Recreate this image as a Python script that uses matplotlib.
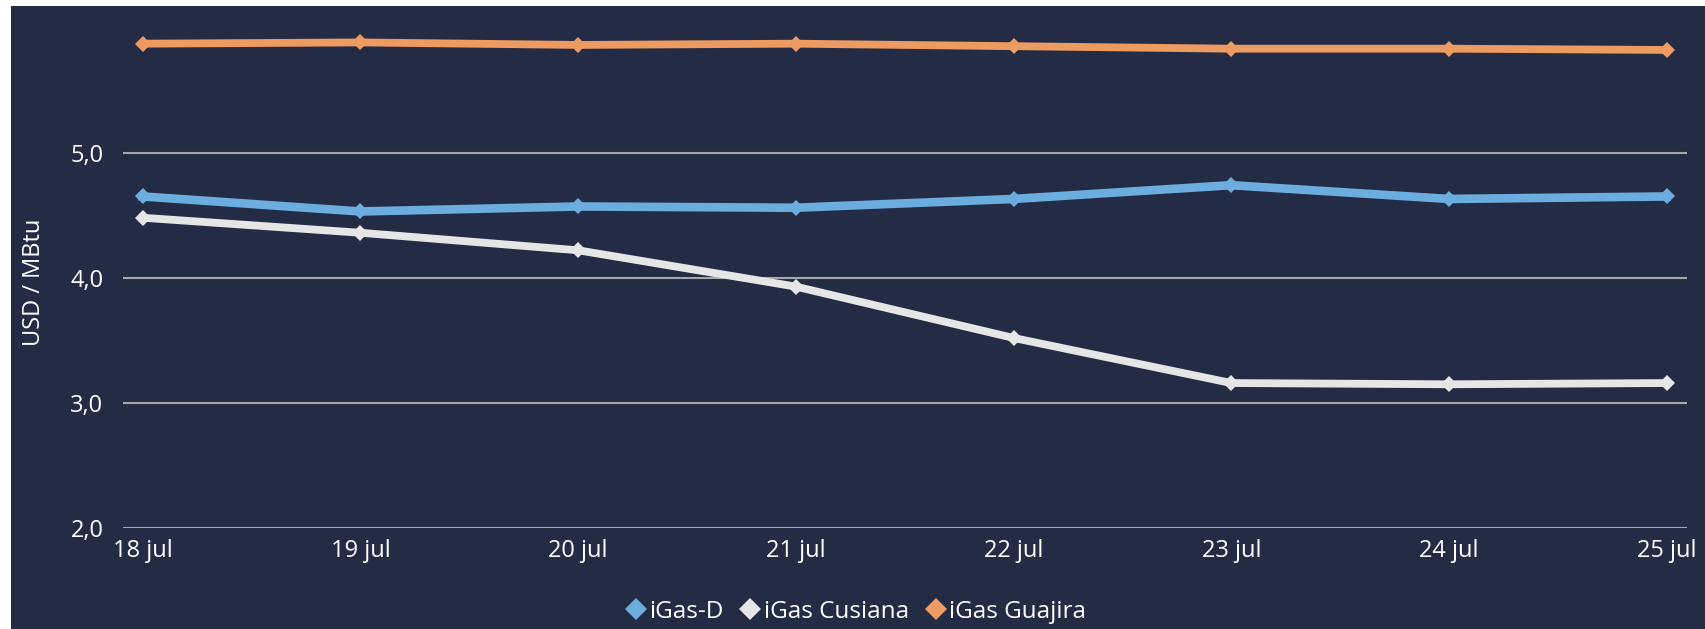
import matplotlib
matplotlib.use("Agg")
import matplotlib.pyplot as plt
from matplotlib.patches import Rectangle
from matplotlib.lines import Line2D

dates = ["18 jul", "19 jul", "20 jul", "21 jul", "22 jul", "23 jul", "24 jul", "25 jul"]
igas_d = [4.65, 4.53, 4.57, 4.56, 4.63, 4.74, 4.63, 4.65]
igas_cusiana = [4.48, 4.36, 4.22, 3.93, 3.52, 3.16, 3.15, 3.16]
igas_guajira = [5.87, 5.88, 5.86, 5.87, 5.85, 5.83, 5.83, 5.82]
series_names = ["iGas-D", "iGas Cusiana", "iGas Guajira"]
yticks = [2, 3, 4, 5]
ytick_labels = ["2,0", "3,0", "4,0", "5,0"]

BG = "#242B45"
colors = ["#6CADE0", "#E6E6E6", "#EE9B62"]
TXT = "#FFFFFF"
FS = 17

plt.rcParams['font.family'] = ['Open Sans', 'DejaVu Sans']

W, H = 1705, 629
fig = plt.figure(figsize=(W / 100, H / 100), dpi=100, facecolor="white")
fig.patches.append(Rectangle((11 / W, 0), 1 - 11 / W, 1 - 6 / H, transform=fig.transFigure,
                             facecolor=BG, edgecolor="none", zorder=-10))

ax = fig.add_axes([123 / W, 1 - 528.3 / H, (1687 - 123) / W, (528.3 - 27.4) / H])
ax.set_facecolor(BG)
ax.patch.set_alpha(0)
x = list(range(len(dates)))

widths = [6.2, 5.6, 5.6]
for vals, c, name, lw in zip([igas_d, igas_cusiana, igas_guajira], colors, series_names, widths):
    ax.plot(x, vals, color=c, lw=lw, marker="D", markersize=8.5, markeredgewidth=0,
            solid_joinstyle="miter", label=name, zorder=3)

ax.set_xlim(-0.0905, 7.093)
ax.set_ylim(2, 6)
ax.set_yticks(yticks)
ax.set_yticklabels(ytick_labels)
ax.set_xticks(x)
ax.set_xticklabels(dates)
ax.grid(axis="y", color="#A6A6A6", lw=1.5, zorder=1)
ax.set_axisbelow(True)
for s in ax.spines.values():
    s.set_visible(False)
ax.tick_params(axis="y", length=0, pad=14, labelsize=FS, labelcolor=TXT)
ax.tick_params(axis="x", length=0, pad=8, labelsize=FS, labelcolor=TXT)

fig.text(34 / W, 1 - 282 / H, "USD / MBtu", rotation=90, ha="center", va="center",
         color=TXT, fontsize=FS)

handles = [Line2D([], [], lw=0, marker="D", markersize=11, markeredgewidth=0, color=c)
           for c in colors]
leg = fig.legend(handles, series_names, loc="center", bbox_to_anchor=(856 / W, 1 - 612 / H),
                 ncol=3, frameon=False, handlelength=0.8, handletextpad=0.15,
                 columnspacing=0.7, fontsize=17.5, borderpad=0, borderaxespad=0)
for t in leg.get_texts():
    t.set_color(TXT)

fig.savefig("out.png", dpi=100, facecolor=fig.get_facecolor())
